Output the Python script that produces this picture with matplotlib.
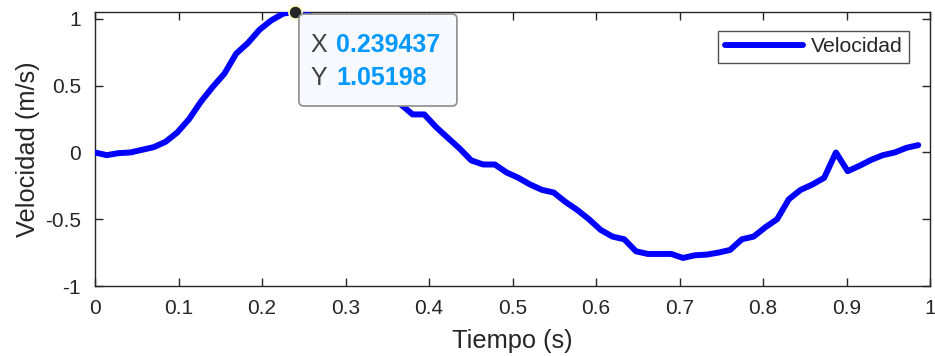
import numpy as np
import matplotlib
matplotlib.use("Agg")
import matplotlib.pyplot as plt
import matplotlib.transforms as mtransforms
from matplotlib.patches import FancyBboxPatch

# Sampling rate of the signal (samples at k / fs)
fs = 71.0
velocidad = [
    0.0, -0.02, -0.005, 0.0, 0.02, 0.04, 0.08, 0.15, 0.25, 0.38,
    0.49, 0.59, 0.74, 0.82, 0.92, 0.99, 1.04, 1.05198, 1.04, 0.98,
    0.90, 0.80, 0.70, 0.60, 0.50, 0.42, 0.36, 0.285, 0.285, 0.19,
    0.11, 0.03, -0.06, -0.09, -0.09, -0.15, -0.19, -0.24, -0.28, -0.30,
    -0.37, -0.43, -0.50, -0.58, -0.63, -0.65, -0.74, -0.76, -0.76, -0.76,
    -0.79, -0.77, -0.765, -0.75, -0.73, -0.65, -0.63, -0.56, -0.50, -0.35,
    -0.28, -0.24, -0.19, 0.0, -0.14, -0.10, -0.055, -0.02, 0.0, 0.035,
    0.055,
]
tiempo = np.arange(len(velocidad)) / fs

tip_x = 0.239437
tip_y = 1.05198

xticks = [0, 0.1, 0.2, 0.3, 0.4, 0.5, 0.6, 0.7, 0.8, 0.9, 1]
xticklabels = ["0", "0.1", "0.2", "0.3", "0.4", "0.5", "0.6", "0.7", "0.8", "0.9", "1"]
yticks = [-1, -0.5, 0, 0.5, 1]
yticklabels = ["-1", "-0.5", "0", "0.5", "1"]

plt.rcParams['font.family'] = ['Liberation Sans', 'DejaVu Sans']
axc = (0.15, 0.15, 0.15)

fig = plt.figure(figsize=(9.35, 3.56), dpi=100)
ax = fig.add_axes([95/935, 1-286/356, 835/935, 274/356])

ax.plot(tiempo, velocidad, color=(0, 0, 1), lw=4.3, label="Velocidad",
        solid_joinstyle='round', solid_capstyle='round', zorder=3)

ax.set_xlim(0, 1)
ax.set_ylim(-1, 1.052)
ax.set_xticks(xticks)
ax.set_xticklabels(xticklabels)
ax.set_yticks(yticks)
ax.set_yticklabels(yticklabels)
ax.tick_params(direction='in', length=6, width=1, colors=axc, labelsize=15,
               top=True, right=True)
ax.tick_params(axis='x', pad=9)
ax.tick_params(axis='y', pad=10)
for s in ax.spines.values():
    s.set_color(axc)
    s.set_linewidth(1)

ax.set_xlabel("Tiempo (s)", fontsize=18.3, color=axc, labelpad=8)
ax.set_ylabel("Velocidad (m/s)", fontsize=18.3, color=axc, labelpad=4)

leg = ax.legend(loc='upper right', bbox_to_anchor=(909/935, 1-31/356),
                bbox_transform=fig.transFigure, fontsize=15.3, frameon=True,
                fancybox=False, handlelength=3.7, borderpad=0.3,
                handletextpad=0.35, borderaxespad=0)
leg.get_frame().set_edgecolor(axc)
leg.get_frame().set_linewidth(1)
for t in leg.get_texts():
    t.set_color(axc)

# Data tip
ax.plot([tip_x], [tip_y], 'o', ms=9.5, mfc=(0.15, 0.15, 0.15),
        mec=(1, 1, 0.75), mew=1.2, zorder=6, clip_on=False)
tr = mtransforms.ScaledTranslation(tip_x, tip_y, ax.transData)
box = FancyBboxPatch((4, -94), 158, 92, boxstyle="round,pad=0,rounding_size=5",
                     transform=tr, facecolor=(0.973, 0.973, 1.0),
                     edgecolor=(0.55, 0.55, 0.55), lw=1.2, zorder=7, clip_on=False)
ax.add_patch(box)
ax.text(16, -33, "X", transform=tr, fontsize=18, color=(0.25, 0.25, 0.25),
        va='center', ha='left', zorder=8, clip_on=False)
ax.text(41, -33, "0.239437", transform=tr, fontsize=18, color=(0.0, 0.6, 1.0),
        fontweight='bold', va='center', ha='left', zorder=8, clip_on=False)
ax.text(16, -66, "Y", transform=tr, fontsize=18, color=(0.25, 0.25, 0.25),
        va='center', ha='left', zorder=8, clip_on=False)
ax.text(41, -66, "1.05198", transform=tr, fontsize=18, color=(0.0, 0.6, 1.0),
        fontweight='bold', va='center', ha='left', zorder=8, clip_on=False)

fig.savefig("out.png", dpi=100)
